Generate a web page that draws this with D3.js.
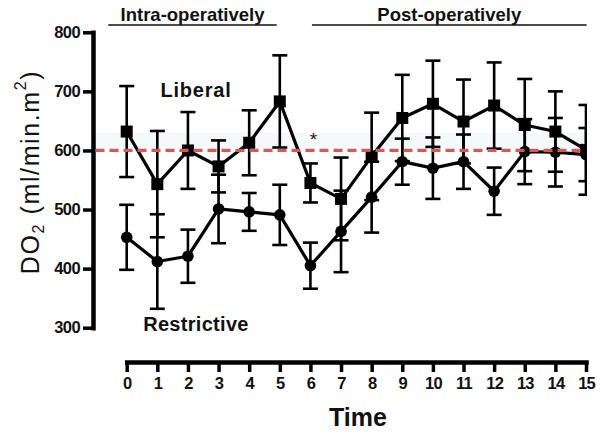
<!DOCTYPE html>
<html>
<head>
<meta charset="utf-8">
<script src="https://cdn.jsdelivr.net/npm/d3@7"></script>
<style>
  html, body { margin: 0; padding: 0; background: #fff; }
  svg { display: block; }
  text { font-family: "Liberation Sans", Arial, Helvetica, sans-serif; }
</style>
</head>
<body>
<svg id="chart" width="600" height="432"></svg>
<script>
// ---- data ----
const times = [0, 1, 2, 3, 4, 5, 6, 7, 8, 9, 10, 11, 12, 13, 14, 15];
const liberal = [632, 543, 600, 573, 613, 683, 545, 518, 590, 655, 679, 649, 676, 643, 632, 601];
const liberalErr = [77, 90, 65, 44, 55, 78, 33, 70, 74, 73, 73, 71, 73, 78, 68, 76];
const restrictive = [453, 412, 421, 501, 496, 491, 405, 463, 521, 581, 570, 581, 531, 598, 597, 593];
const restrictiveErr = [55, 80, 45, 58, 32, 51, 39, 69, 60, 39, 52, 46, 40, 55, 58, 45];
const yTicks = [300, 400, 500, 600, 700, 800];
const xTicks = times;
const refValue = 600;
const periods = [
  { label: "Intra-operatively", from: -0.6, to: 4.9 },
  { label: "Post-operatively", from: 6.05, to: 15.02 }
];

// ---- layout ----
const svg = d3.select("#chart");
const x = d3.scaleLinear().domain([0, 15]).range([126.7, 586]);
const y = d3.scaleLinear().domain([300, 800]).range([327.7, 32.3]);
const yAxisX = 93;
const xAxisY = 362;

svg.append("defs").append("clipPath").attr("id", "plotClip")
  .append("rect").attr("x", 0).attr("y", 0).attr("width", x(15) + 1).attr("height", 432);

// faint band near the reference line
svg.append("rect")
  .attr("x", yAxisX + 2).attr("width", x(15) - yAxisX - 2)
  .attr("y", y(630)).attr("height", y(603) - y(630))
  .attr("fill", "#f6f9f9");

// ---- axes ----
const yAxis = svg.append("g")
  .attr("transform", `translate(${yAxisX},0)`)
  .call(d3.axisLeft(y).tickValues(yTicks).tickSize(10).tickSizeOuter(0).tickPadding(3));
yAxis.select(".domain").attr("stroke", "#000").attr("stroke-width", 4.5).attr("stroke-linecap", "square");
yAxis.selectAll(".tick line").attr("stroke", "#000").attr("stroke-width", 3.5);
yAxis.selectAll(".tick text")
  .attr("font-size", 16.5).attr("font-weight", "bold").attr("fill", "#111")
  .attr("letter-spacing", -0.6);

const xAxis = svg.append("g")
  .attr("transform", `translate(0,${xAxisY})`)
  .call(d3.axisBottom(x).tickValues(xTicks).tickSize(10).tickSizeOuter(0).tickPadding(5).tickFormat(d3.format("d")));
xAxis.select(".domain").attr("stroke", "#000").attr("stroke-width", 4.5).attr("stroke-linecap", "square");
xAxis.selectAll(".tick line").attr("stroke", "#000").attr("stroke-width", 3.5);
xAxis.selectAll(".tick text")
  .attr("font-size", 16.5).attr("font-weight", "bold").attr("fill", "#111")
  .attr("letter-spacing", -0.8);

// axis titles
svg.append("text")
  .attr("x", 358).attr("y", 426)
  .attr("text-anchor", "middle")
  .attr("font-size", 25).attr("font-weight", "bold").attr("fill", "#111")
  .text("Time");

const yl = svg.append("text")
  .attr("transform", "translate(39,172) rotate(-90)")
  .attr("text-anchor", "middle")
  .attr("font-size", 25).attr("fill", "#111").attr("letter-spacing", 1.6);
yl.append("tspan").text("DO");
yl.append("tspan").attr("font-size", 16).attr("dy", 5).text("2");
yl.append("tspan").attr("dy", -5).text(" (ml/min.m");
yl.append("tspan").attr("font-size", 16).attr("dy", -13).text("2");
yl.append("tspan").attr("dy", 13).text(")");

// period headers
periods.forEach(p => {
  const x0 = x(p.from), x1 = x(p.to);
  svg.append("line")
    .attr("x1", x0).attr("x2", x1).attr("y1", 25).attr("y2", 25)
    .attr("stroke", "#111").attr("stroke-width", 1.4);
  svg.append("text")
    .attr("x", (x0 + x1) / 2).attr("y", 20.5)
    .attr("text-anchor", "middle")
    .attr("font-size", 18.5).attr("font-weight", "bold").attr("fill", "#111")
    .text(p.label);
});

// ---- series ----
const plot = svg.append("g").attr("clip-path", "url(#plotClip)");
const capHalf = 7.5;

function errorBars(vals, errs) {
  const g = plot.append("g").attr("stroke", "#000").attr("stroke-width", 2.6);
  times.forEach((t, i) => {
    const cx = x(t), top = y(vals[i] + errs[i]), bot = y(vals[i] - errs[i]);
    g.append("line").attr("x1", cx).attr("x2", cx).attr("y1", top).attr("y2", bot);
    g.append("line").attr("x1", cx - capHalf).attr("x2", cx + capHalf).attr("y1", top).attr("y2", top);
    g.append("line").attr("x1", cx - capHalf).attr("x2", cx + capHalf).attr("y1", bot).attr("y2", bot);
  });
}
errorBars(liberal, liberalErr);
errorBars(restrictive, restrictiveErr);

const line = d3.line().x((d, i) => x(times[i])).y(d => y(d));
plot.append("path").datum(liberal).attr("d", line)
  .attr("fill", "none").attr("stroke", "#000").attr("stroke-width", 3.2).attr("stroke-linejoin", "round");
plot.append("path").datum(restrictive).attr("d", line)
  .attr("fill", "none").attr("stroke", "#000").attr("stroke-width", 3.2).attr("stroke-linejoin", "round");

// reference dashed line
svg.append("line")
  .attr("x1", yAxisX + 2.5).attr("x2", x(15) - 3)
  .attr("y1", y(refValue)).attr("y2", y(refValue))
  .attr("stroke", "#d65a52").attr("stroke-width", 3.2)
  .attr("stroke-dasharray", "9,5");

// markers
const sq = 12;
plot.append("g").selectAll("rect").data(liberal).join("rect")
  .attr("x", (d, i) => x(times[i]) - sq / 2).attr("y", d => y(d) - sq / 2)
  .attr("width", sq).attr("height", sq).attr("fill", "#000");
plot.append("g").selectAll("circle").data(restrictive).join("circle")
  .attr("cx", (d, i) => x(times[i])).attr("cy", d => y(d))
  .attr("r", 5.8).attr("fill", "#000");

// annotations
svg.append("text").attr("x", 196).attr("y", 96.5).attr("text-anchor", "middle")
  .attr("font-size", 20).attr("font-weight", "bold").attr("fill", "#111").attr("letter-spacing", 0.8)
  .text("Liberal");
svg.append("text").attr("x", 196).attr("y", 331).attr("text-anchor", "middle")
  .attr("font-size", 20).attr("font-weight", "bold").attr("fill", "#111").attr("letter-spacing", 0.3)
  .text("Restrictive");
svg.append("text").attr("x", 313.5).attr("y", 146).attr("text-anchor", "middle")
  .attr("font-size", 19).attr("fill", "#222")
  .text("*");
</script>
</body>
</html>
